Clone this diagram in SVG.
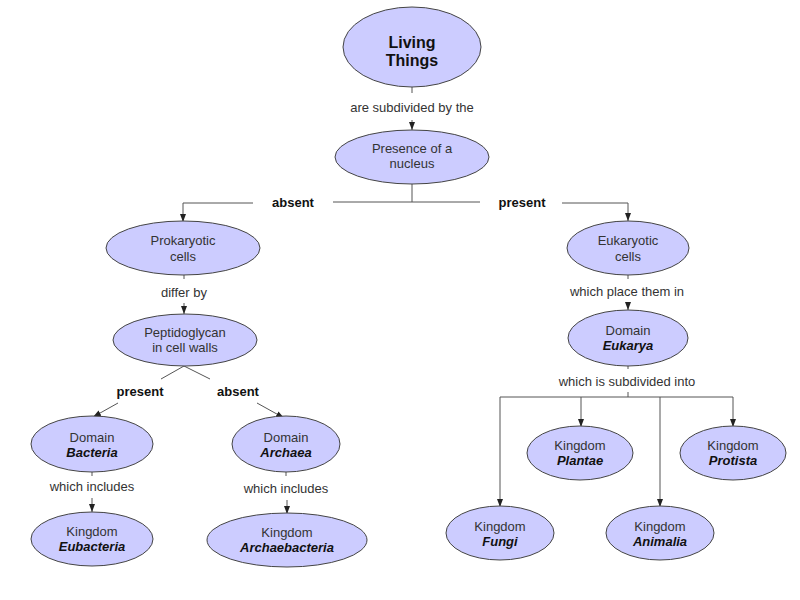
<svg xmlns="http://www.w3.org/2000/svg" width="800" height="600" viewBox="0 0 800 600">
<style>
.node ellipse{fill:#ccccff;stroke:#444;stroke-width:1}
.node text{font-family:"Liberation Sans",Arial,sans-serif;font-size:13px;fill:#333;text-anchor:middle}
.node text.sp{font-weight:bold;font-style:italic;fill:#111}
.node text.big{font-size:16px;font-weight:bold;fill:#111}
.conn path{fill:none;stroke:#555;stroke-width:1}
.conn path.arr{marker-end:url(#ah)}
.lbl{font-family:"Liberation Sans",Arial,sans-serif;font-size:13px;fill:#333;text-anchor:middle}
.lbl.b{font-weight:bold;fill:#111}
</style>
<defs>
<marker id="ah" markerUnits="userSpaceOnUse" markerWidth="8" markerHeight="8" viewBox="0 0 8 8" refX="8" refY="4" orient="auto">
<path d="M0,1 L8,4 L0,7 Z" fill="#222"/>
</marker>
</defs>
<rect width="800" height="600" fill="#fff"/>
<g id="connectors" class="conn">
<path d="M412,87 V93"/>
<path class="arr" d="M412,120 V130"/>
<path d="M412,183 V202 M333,202 H480"/>
<path class="arr" d="M253,203 H183 V222"/>
<path class="arr" d="M562,203 H628 V221"/>
<path d="M184,275 V279"/>
<path class="arr" d="M184,303 V314"/>
<path d="M184,366 L161,379 M184,366 L210,379"/>
<path class="arr" d="M118,403 L93,417"/>
<path class="arr" d="M257,403 L284,418"/>
<path d="M92,472 V476"/>
<path class="arr" d="M92,498 V512"/>
<path d="M286,472 V476"/>
<path class="arr" d="M287,500 V514"/>
<path d="M628,275 V279"/>
<path class="arr" d="M628,302 V310"/>
<path d="M628,365 V369"/>
<path d="M628,392 V397 M500,397 H733"/>
<path class="arr" d="M500,397 V507"/>
<path class="arr" d="M581,397 V427"/>
<path class="arr" d="M660,397 V507"/>
<path class="arr" d="M733,397 V427"/>
<text class="lbl" x="412" y="112">are subdivided by the</text>
<text class="lbl b" x="293" y="207">absent</text>
<text class="lbl b" x="522" y="207">present</text>
<text class="lbl" x="184" y="297">differ by</text>
<text class="lbl b" x="140" y="396">present</text>
<text class="lbl b" x="238" y="396">absent</text>
<text class="lbl" x="92" y="491">which includes</text>
<text class="lbl" x="286" y="493">which includes</text>
<text class="lbl" x="627" y="296">which place them in</text>
<text class="lbl" x="627" y="386">which is subdivided into</text>
</g>
<g id="living" class="node">
<ellipse cx="412" cy="47" rx="69" ry="40"/>
<text class="big" x="412" y="48">Living</text>
<text class="big" x="412" y="66">Things</text>
</g>
<g id="presence" class="node">
<ellipse cx="412" cy="157" rx="77" ry="27"/>
<text x="412" y="153">Presence of a</text>
<text x="412" y="168">nucleus</text>
</g>
<g id="prokaryotic" class="node">
<ellipse cx="183" cy="248" rx="77" ry="27"/>
<text x="183" y="245">Prokaryotic</text>
<text x="183" y="261">cells</text>
</g>
<g id="peptidoglycan" class="node">
<ellipse cx="185" cy="340" rx="72" ry="26"/>
<text x="185" y="337">Peptidoglycan</text>
<text x="185" y="352">in cell walls</text>
</g>
<g id="bacteria" class="node">
<ellipse cx="92" cy="444" rx="61" ry="28"/>
<text x="92" y="442">Domain</text>
<text class="sp" x="92" y="457">Bacteria</text>
</g>
<g id="archaea" class="node">
<ellipse cx="286" cy="444" rx="54" ry="28"/>
<text x="286" y="442">Domain</text>
<text class="sp" x="286" y="457">Archaea</text>
</g>
<g id="eubacteria" class="node">
<ellipse cx="92" cy="539" rx="61" ry="27"/>
<text x="92" y="536">Kingdom</text>
<text class="sp" x="92" y="551">Eubacteria</text>
</g>
<g id="archaebacteria" class="node">
<ellipse cx="287" cy="540" rx="80" ry="27"/>
<text x="287" y="537">Kingdom</text>
<text class="sp" x="287" y="552">Archaebacteria</text>
</g>
<g id="eukaryotic" class="node">
<ellipse cx="628" cy="248" rx="61" ry="27"/>
<text x="628" y="245">Eukaryotic</text>
<text x="628" y="261">cells</text>
</g>
<g id="eukarya" class="node">
<ellipse cx="628" cy="338" rx="60" ry="28"/>
<text x="628" y="335">Domain</text>
<text class="sp" x="628" y="350">Eukarya</text>
</g>
<g id="plantae" class="node">
<ellipse cx="580" cy="453" rx="53" ry="27"/>
<text x="580" y="450">Kingdom</text>
<text class="sp" x="580" y="465">Plantae</text>
</g>
<g id="protista" class="node">
<ellipse cx="733" cy="453" rx="53" ry="27"/>
<text x="733" y="450">Kingdom</text>
<text class="sp" x="733" y="465">Protista</text>
</g>
<g id="fungi" class="node">
<ellipse cx="500" cy="533" rx="54" ry="27"/>
<text x="500" y="531">Kingdom</text>
<text class="sp" x="500" y="546">Fungi</text>
</g>
<g id="animalia" class="node">
<ellipse cx="660" cy="533" rx="54" ry="27"/>
<text x="660" y="531">Kingdom</text>
<text class="sp" x="660" y="546">Animalia</text>
</g>
</svg>
